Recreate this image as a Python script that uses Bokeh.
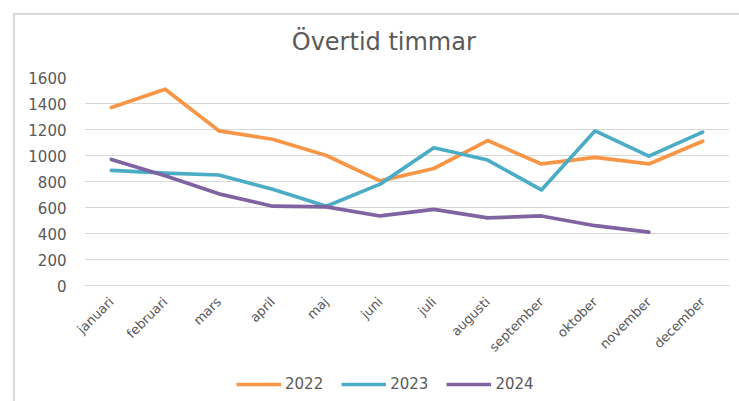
import math
from bokeh.plotting import figure
from bokeh.layouts import column
from bokeh.models import FactorRange, Range1d, Legend, LegendItem, FixedTicker, Label
from bokeh.embed import file_html
from bokeh.resources import INLINE

months = ["januari", "februari", "mars", "april", "maj", "juni", "juli",
          "augusti", "september", "oktober", "november", "december"]
y2022 = [1370, 1510, 1190, 1125, 1000, 805, 900, 1115, 935, 985, 935, 1110]
y2023 = [885, 865, 850, 740, 610, 780, 1060, 965, 735, 1190, 995, 1180]
y2024 = [970, 845, 705, 610, 605, 535, 585, 520, 535, 460, 410]
series_names = ["2022", "2023", "2024"]
colors = ["#F79646", "#4BACC6", "#8064A2"]
y_ticks = [0, 200, 400, 600, 800, 1000, 1200, 1400, 1600]
title_text = "Övertid timmar"

FONT = "DejaVu Sans"
GREY = "#595959"
W = 724

# title strip
tf = figure(width=W, height=52, output_backend="svg", toolbar_location=None,
            x_axis_type=None, y_axis_type=None,
            min_border_left=0, min_border_right=0, min_border_top=0, min_border_bottom=0,
            x_range=Range1d(0, 1), y_range=Range1d(0, 1))
tf.outline_line_color = None
tf.grid.grid_line_color = None
tf.border_fill_color = "white"
tf.add_layout(Label(x=0.464, y=0.49, text=title_text, text_font=FONT,
                    text_font_size="24px", text_color=GREY,
                    text_align="center", text_baseline="middle"))

# main chart
p = figure(width=W, height=298, output_backend="svg", toolbar_location=None,
           x_range=FactorRange(factors=months, range_padding=0),
           y_range=Range1d(0, 1600),
           min_border_left=69, min_border_right=10, min_border_top=10,
           min_border_bottom=80)
p.outline_line_color = None
p.background_fill_color = "white"
p.border_fill_color = "white"

for ys, c in zip([y2022, y2023, y2024], colors):
    p.line(months[:len(ys)], ys, line_color=c, line_width=3.7,
           line_join="round", line_cap="round")

p.xgrid.grid_line_color = None
p.ygrid.grid_line_color = "#D9D9D9"
p.ygrid.grid_line_width = 1
p.yaxis.ticker = FixedTicker(ticks=y_ticks)
p.yaxis.axis_line_color = None
p.yaxis.major_tick_line_color = None
p.yaxis.major_tick_out = 0
p.yaxis.major_tick_in = 0
p.yaxis.minor_tick_line_color = None
p.yaxis.major_label_standoff = 18
p.yaxis.major_label_text_font = FONT
p.yaxis.major_label_text_font_size = "15px"
p.yaxis.major_label_text_color = GREY

p.xaxis.axis_line_color = "#D9D9D9"
p.xaxis.major_tick_line_color = None
p.xaxis.major_tick_out = 0
p.xaxis.major_tick_in = 0
p.xaxis.minor_tick_line_color = None
p.xaxis.major_label_orientation = math.pi / 4
p.xaxis.major_label_standoff = 14
p.xaxis.major_label_text_font = FONT
p.xaxis.major_label_text_font_size = "13px"
p.xaxis.major_label_text_color = GREY

# legend strip (same series drawn out of view, only the legend shows)
lf = figure(width=W, height=36, output_backend="svg", toolbar_location=None,
            x_axis_type=None, y_axis_type=None,
            min_border_left=0, min_border_right=0, min_border_top=0, min_border_bottom=0,
            x_range=FactorRange(factors=months, range_padding=0),
            y_range=Range1d(-2, -1))
lf.outline_line_color = None
lf.grid.grid_line_color = None
lf.border_fill_color = "white"
leg_renderers = []
for ys, c in zip([y2022, y2023, y2024], colors):
    leg_renderers.append(lf.line(months[:len(ys)], ys, line_color=c, line_width=3.7))

legend = Legend(items=[LegendItem(label=n, renderers=[r]) for n, r in zip(series_names, leg_renderers)],
                orientation="horizontal", location=(152, 8),
                label_text_font=FONT, label_text_font_size="15px",
                label_text_color=GREY, glyph_width=45, glyph_height=14,
                label_standoff=4, spacing=18, border_line_color=None,
                background_fill_alpha=0, margin=0, padding=4)
lf.add_layout(legend, "center")

layout = column(tf, p, lf, spacing=0)
layout.margin = (13, 0, 0, 13)
layout.styles = {"border-left": "2px solid #D9D9D9", "border-top": "2px solid #D9D9D9"}

open("out.html", "w").write(file_html(layout, INLINE))
